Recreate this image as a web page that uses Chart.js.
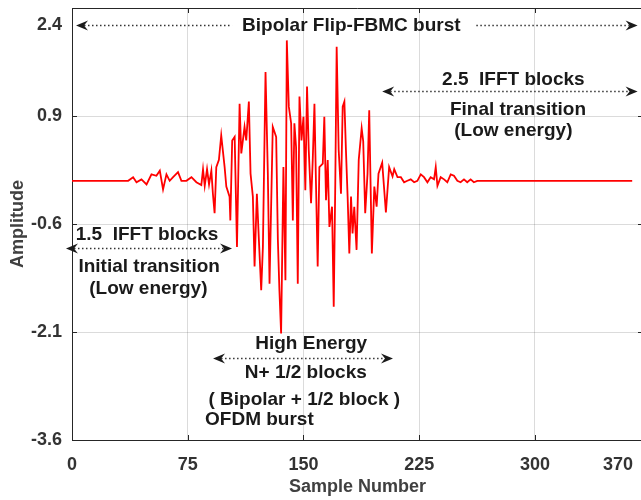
<!DOCTYPE html>
<html>
<head>
<meta charset="utf-8">
<script src="https://cdn.jsdelivr.net/npm/chart.js@4.4.1/dist/chart.umd.min.js"></script>
<style>
  html, body { margin: 0; padding: 0; background: #fff; overflow: hidden; }
  #wrap { width: 650px; height: 500px; }
</style>
</head>
<body>
<div id="wrap"><canvas id="c" width="650" height="500"></canvas></div>
<script>
// burst samples
const sampleNo = [
  0, 36.4, 39.6, 41.8, 45, 48.3, 51.5, 54.7, 56.9, 59.0, 61.2, 63.3, 65.5, 68.7, 70.9, 74.1, 77.4, 80.6, 83.8,
  84.9, 86.0, 87.5, 88.8, 90.3, 91.3, 92.4, 93.5, 95.2, 96.7, 98.9, 100.0, 102.1, 102.6, 103.8, 105.4, 106.9,
  108.6, 109.7, 111.8, 112.9, 114.6, 115.7, 117.2, 118.3, 119.8, 121.1, 122.6, 123.7, 125.4, 126.9, 128.0,
  130.1, 132.3, 133.4, 134.4, 135.5, 137.0, 138.3, 139.2, 140.5, 142.0, 143.1, 144.1, 145.2, 146.3, 147.4,
  148.7, 150.0, 151.2, 152.3, 153.4, 154.9, 156.0, 157.1, 158.1, 159.2, 160.3, 162.5, 163.5, 164.6, 165.7,
  166.8, 168.5, 169.6, 170.6, 171.5, 172.8, 174.3, 175.4, 176.5, 177.5, 178.6, 179.7, 180.8, 181.8, 182.9,
  184.4, 185.8, 187.7, 188.7, 190.0, 191.5, 192.6, 194.3, 195.9, 197.4, 198.6, 201.0, 203.4, 205.5, 207.7,
  208.8, 210.9, 213.1, 215.2, 217.3, 219.5, 221.7, 223.8, 226.0, 228.1, 230.3, 232.4, 234.6, 235.7, 236.8,
  238.9, 241.1, 243.2, 245.4, 247.5, 249.7, 251.8, 254.0, 256.1, 258.3, 260.4, 262.6, 363
];
const amplitude = [
  0, 0, 0.05, -0.02, 0.02, -0.05, 0.09, 0.07, 0.14, -0.12, 0.09, 0, 0.05, 0.12, 0, 0, 0.05, -0.02, -0.06,
  0.16, -0.07, 0.16, -0.05, 0.14, -0.18, -0.45, 0.19, 0.29, 0.63, 0.19, -0.08, -0.22, -0.55, 0.56, 0.61, -0.92,
  1.07, 0.38, 0.75, 0.56, 1.10, 0.10, -0.22, -1.19, -0.18, -0.82, -1.52, -0.92, 1.51, 0.10, -1.43,
  0.75, 0.61, -0.82, -1.52, -2.12, 0.19, -1.38, 1.95, 1.03, 0.80, -0.55, 0.80, 0.47, -1.43, 1.17,
  0.56, 0.89, -0.13, 1.31, 0.43, -0.31, 0.29, 1.07, -0.04, -1.19, 0.19, 0.24, 0.89, -0.27, 0.29,
  -0.64, -0.36, -1.75, -0.04, 1.86, 0.43, -0.18, 1.03, 1.10, 0.43, -0.22, -1.01, -0.22, -0.73, -0.36,
  -0.96, 0.29, 0.73, 0.55, -0.45, 0.10, 0.98, -1.01, -0.08, -0.36, 0.10, 0.25, -0.44, 0.19, 0.06,
  0.16, 0.05, 0.05, -0.02, 0, 0.02, -0.02, 0, 0.09, 0.05, -0.02, 0.05, 0.02, 0.19, -0.07,
  0.05, 0.02, -0.02, 0.09, 0.07, 0, -0.02, 0.02, -0.02, 0.02, -0.02, 0, 0
];
const xTickValues = [0, 75, 150, 225, 300, 370];
const yTickValues = [-3.6, -2.1, -0.6, 0.9, 2.4];

const FONT = 'Liberation Sans, Arial, sans-serif';
const INK = '#1a1a1a';

// text labels and dotted arrows, in data units
const notes = [
  { text: 'Bipolar Flip-FBMC burst', x: 181, y: 2.16 },
  { text: '2.5  IFFT blocks', x: 286, y: 1.40 },
  { text: 'Final transition', x: 289, y: 0.98 },
  { text: '(Low energy)', x: 286, y: 0.69 },
  { text: '1.5  IFFT blocks', x: 48.6, y: -0.75 },
  { text: 'Initial transition', x: 50, y: -1.20 },
  { text: '(Low energy)', x: 49.5, y: -1.50 },
  { text: 'High Energy', x: 155, y: -2.27 },
  { text: 'N+ 1/2 blocks', x: 151.5, y: -2.67 },
  { text: '( Bipolar + 1/2 block )', x: 150.5, y: -3.04 },
  { text: 'OFDM burst', x: 86.2, y: -3.32, align: 'left' }
];
const arrows = [
  { x0: 2.6, x1: 103.7, y: 2.16, start: true, end: false },
  { x0: 262, x1: 366.5, y: 2.16, start: false, end: true },
  { x0: 201, x1: 366.5, y: 1.25, start: true, end: true },
  { x0: -3.9, x1: 103.7, y: -0.93, start: true, end: true },
  { x0: 91.4, x1: 208, y: -2.46, start: true, end: true }
];

function head(ctx, x, y, dir) {
  ctx.beginPath();
  ctx.moveTo(x, y);
  ctx.lineTo(x - dir * 12, y - 5);
  ctx.lineTo(x - dir * 8, y);
  ctx.lineTo(x - dir * 12, y + 5);
  ctx.closePath();
  ctx.fill();
}

const annotate = {
  id: 'annotate',
  afterDraw(chart) {
    const { ctx, chartArea: a, scales: { x, y } } = chart;
    ctx.save();
    // box top + inner ticks
    ctx.strokeStyle = '#262626';
    ctx.lineWidth = 1;
    ctx.beginPath();
    ctx.moveTo(a.left, a.top + 0.5);
    ctx.lineTo(a.right, a.top + 0.5);
    xTickValues.forEach(v => {
      const px = Math.round(x.getPixelForValue(v)) + 0.5;
      ctx.moveTo(px, a.bottom); ctx.lineTo(px, a.bottom - 5);
      ctx.moveTo(px, a.top); ctx.lineTo(px, a.top + 5);
    });
    yTickValues.forEach(v => {
      const py = Math.round(y.getPixelForValue(v)) + 0.5;
      ctx.moveTo(a.left, py); ctx.lineTo(a.left + 5, py);
      ctx.moveTo(a.right, py); ctx.lineTo(a.right - 5, py);
    });
    ctx.stroke();

    // dotted arrows
    ctx.fillStyle = INK;
    ctx.strokeStyle = '#333';
    arrows.forEach(ar => {
      const px0 = x.getPixelForValue(ar.x0), px1 = x.getPixelForValue(ar.x1);
      const py = Math.round(y.getPixelForValue(ar.y)) + 0.5;
      ctx.setLineDash([1.5, 2.5]);
      ctx.lineWidth = 1.4;
      ctx.beginPath();
      ctx.moveTo(px0 + (ar.start ? 8 : 0), py);
      ctx.lineTo(px1 - (ar.end ? 8 : 0), py);
      ctx.stroke();
      ctx.setLineDash([]);
      if (ar.start) head(ctx, px0, py, -1);
      if (ar.end) head(ctx, px1, py, 1);
    });

    // text
    ctx.font = 'bold 19px ' + FONT;
    ctx.textBaseline = 'middle';
    notes.forEach(n => {
      ctx.textAlign = n.align || 'center';
      ctx.fillText(n.text, x.getPixelForValue(n.x), y.getPixelForValue(n.y));
    });
    ctx.restore();
  }
};

const chart = new Chart(document.getElementById('c'), {
  type: 'line',
  data: {
    datasets: [{
      data: sampleNo.map((s, i) => ({ x: s, y: amplitude[i] })),
      borderColor: '#ff0000',
      borderWidth: 1.8,
      pointRadius: 0,
      tension: 0,
      fill: false
    }]
  },
  options: {
    responsive: false,
    animation: false,
    devicePixelRatio: 1,
    layout: { autoPadding: false, padding: { top: 8, right: 7, left: 0, bottom: 0 } },
    plugins: { legend: { display: false }, tooltip: { enabled: false } },
    scales: {
      x: {
        type: 'linear',
        min: 0,
        max: 370,
        afterBuildTicks: s => { s.ticks = [{ value: 0 }, ...xTickValues.map(v => ({ value: v }))]; },
        afterFit: s => { s.height = 60; s.paddingLeft = 0; s.paddingRight = 0; },
        grid: { color: 'rgba(0,0,0,0.14)', drawTicks: false },
        border: { color: '#262626', width: 1 },
        ticks: {
          autoSkip: false,
          maxRotation: 0,
          align: 'inner',
          padding: 14,
          color: '#333',
          font: { family: FONT, size: 18, weight: 'bold' },
          // last label is pulled in from the clipped right edge, as in the figure
          callback: (v, i, t) => (i === 0 ? '' : i === t.length - 1 ? v + '  ' : String(v))
        },
        title: {
          display: true,
          text: 'Sample Number',
          color: '#404040',
          padding: { top: 0, bottom: 2 },
          font: { family: FONT, size: 18, weight: 'bold' }
        }
      },
      y: {
        min: -3.6,
        max: 2.4,
        afterBuildTicks: s => { s.ticks = yTickValues.map(v => ({ value: v })); },
        afterFit: s => { s.width = 72; s.paddingTop = 0; s.paddingBottom = 0; },
        grid: { color: 'rgba(0,0,0,0.14)', drawTicks: false },
        border: { color: '#262626', width: 1 },
        ticks: {
          padding: 10,
          color: '#333',
          font: { family: FONT, size: 18, weight: 'bold', lineHeight: 1.9 },
          // top label sits a little below the frame in the figure
          callback: (v, i, t) => (i === t.length - 1 ? ['', v.toFixed(1)] : v.toFixed(1))
        },
        title: {
          display: true,
          text: 'Amplitude',
          color: '#404040',
          padding: { top: 7, bottom: 0 },
          font: { family: FONT, size: 18, weight: 'bold' }
        }
      }
    }
  },
  plugins: [annotate]
});
</script>
</body>
</html>
